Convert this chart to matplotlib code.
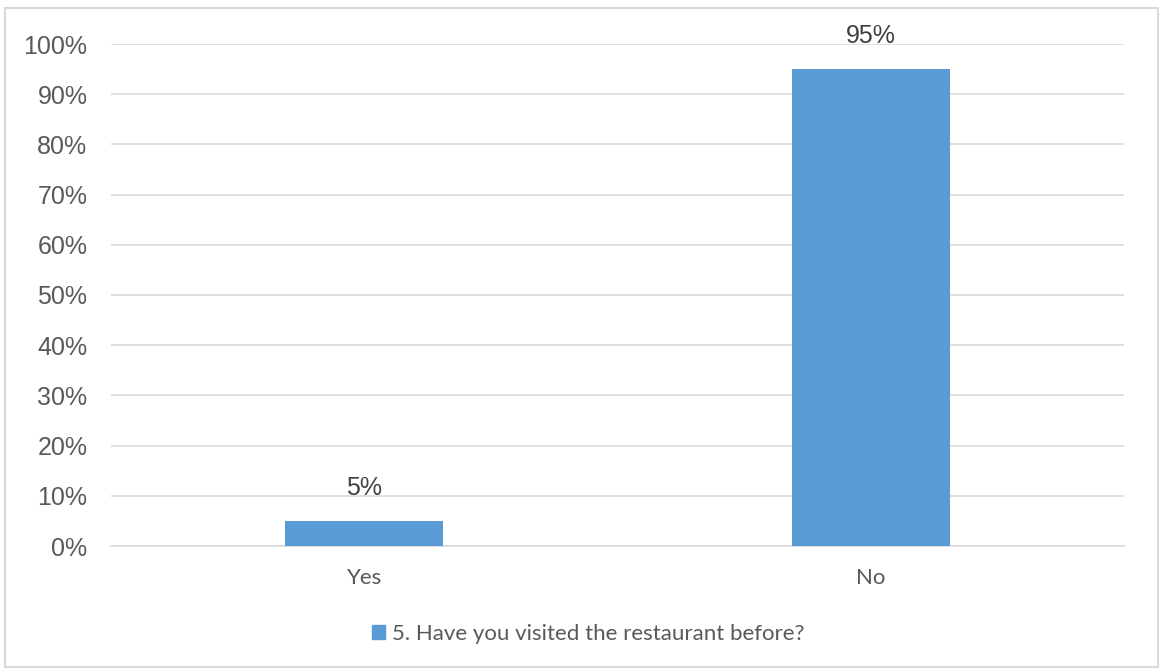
import numpy as np
import matplotlib.pyplot as plt
from matplotlib.patches import Rectangle

categories = ["Yes", "No"]
shares = [5, 95]
series_name = "5. Have you visited the restaurant before?"
y_ticks = list(range(0, 101, 10))

bar_color = "#5B9BD5"
grid_color = "#D9D9D9"
text_color = "#595959"

fig = plt.figure(figsize=(11.62, 6.69), dpi=100)
ax = fig.add_axes([111 / 1162, 1 - 546 / 669, 1013 / 1162, 502 / 669])

x = np.arange(len(categories))
bars = ax.bar(x, shares, width=0.312, color=bar_color, zorder=3)

for rect, val in zip(bars, shares):
    ax.annotate("%d%%" % val, (rect.get_x() + rect.get_width() / 2, val),
                xytext=(0, 15), textcoords="offset points",
                ha="center", va="bottom", fontsize=18,
                family="Liberation Sans", color="#404040")

ax.set_xlim(-0.5, len(categories) - 0.5)
ax.set_ylim(0, 100)
ax.set_yticks(y_ticks)
ax.set_yticklabels(["%d%%" % t for t in y_ticks], family="Liberation Sans",
                   fontsize=18, color=text_color)
ax.set_xticks(x)
ax.set_xticklabels(categories, family="Lato", fontsize=16, color=text_color)
ax.tick_params(axis="both", length=0)
ax.tick_params(axis="y", pad=17)
ax.tick_params(axis="x", pad=16)

ax.grid(axis="y", color=grid_color, linewidth=1.2, zorder=0)
for side in ["left", "right", "top"]:
    ax.spines[side].set_visible(False)
ax.spines["bottom"].set_color(grid_color)
ax.spines["bottom"].set_linewidth(1.2)

# legend at the bottom, centred
fig.legend(handles=[Rectangle((0, 0), 1, 1, color=bar_color)],
           labels=[series_name], loc="center", bbox_to_anchor=(0.506, 1 - 634 / 669),
           frameon=False, handlelength=0.6, handleheight=0.6, handletextpad=0.3,
           prop={"family": "Lato", "size": 16}, labelcolor=text_color)

# outer chart border
fig.add_artist(Rectangle((5 / 1162, 2 / 669), 1153 / 1162, 659 / 669,
                         transform=fig.transFigure, fill=False,
                         edgecolor=grid_color, linewidth=1.5))

fig.savefig("out.png", dpi=100, facecolor="white")
